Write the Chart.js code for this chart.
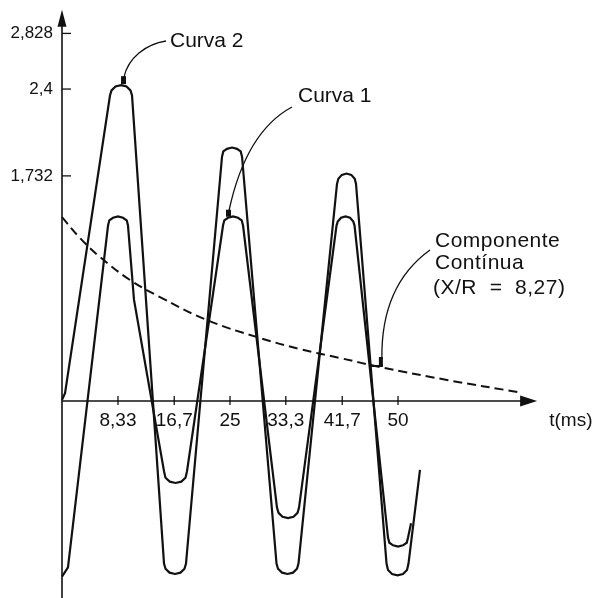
<!DOCTYPE html>
<html>
<head>
<meta charset="utf-8">
<script src="https://cdn.jsdelivr.net/npm/chart.js@4.4.1/dist/chart.umd.min.js"></script>
<style>
  html, body { margin: 0; padding: 0; background: #fff; }
  #wrap { width: 596px; height: 598px; position: relative; }
</style>
</head>
<body>
<div id="wrap"><canvas id="grafico"></canvas></div>
<script>
// tempo (ms) e corrente (pu) de cada curva; cada crista/vale tem 7 pontos
const curva2T = [0, 0.45,
  7.14, 7.37, 7.96, 8.78, 9.60, 10.19, 10.42,
  15.18, 15.40, 16.00, 16.82, 17.63, 18.23, 18.45,
  23.81, 24.00, 24.55, 25.30, 26.04, 26.59, 26.79,
  31.92, 32.14, 32.74, 33.56, 34.38, 34.97, 35.19,
  40.92, 41.12, 41.64, 42.34, 43.05, 43.56, 43.75,
  48.29, 48.51, 49.11, 49.93, 50.74, 51.34, 51.56,
  53.27];
const curva2I = [0.01, 0.06,
  2.35, 2.39, 2.42, 2.43, 2.42, 2.39, 2.35,
  -1.25, -1.29, -1.32, -1.33, -1.32, -1.29, -1.25,
  1.88, 1.92, 1.94, 1.95, 1.94, 1.92, 1.88,
  -1.25, -1.29, -1.32, -1.33, -1.32, -1.29, -1.25,
  1.67, 1.71, 1.74, 1.75, 1.74, 1.71, 1.67,
  -1.25, -1.30, -1.33, -1.34, -1.33, -1.30, -1.25,
  -0.53];

const curva1T = [0, 0.89,
  6.85, 7.04, 7.59, 8.33, 9.08, 9.63, 9.82, 10.71,
  15.18, 15.40, 16.04, 16.89, 17.75, 18.38, 18.60,
  23.96, 24.15, 24.70, 25.45, 26.19, 26.74, 26.94,
  31.99, 32.22, 32.81, 33.63, 34.45, 35.05, 35.27,
  40.85, 41.03, 41.52, 42.19, 42.86, 43.35, 43.53,
  48.51, 48.71, 49.26, 50.0, 50.74, 51.30, 51.49,
  51.94];
const curva1I = [-1.35, -1.28,
  1.35, 1.39, 1.41, 1.42, 1.41, 1.39, 1.35, 0.78,
  -0.54, -0.59, -0.62, -0.63, -0.62, -0.59, -0.54,
  1.35, 1.39, 1.41, 1.42, 1.41, 1.39, 1.35,
  -0.82, -0.86, -0.89, -0.90, -0.89, -0.86, -0.82,
  1.35, 1.38, 1.41, 1.42, 1.41, 1.38, 1.35,
  -1.05, -1.09, -1.11, -1.12, -1.11, -1.09, -1.05,
  -0.94];

// componente continua
const compT = [0, 2.68, 5.65, 10.12, 14.58, 21.58, 29.46, 35.42, 41.37, 47.32, 57.29, 67.86];
const compI = [1.415, 1.254, 1.108, 0.931, 0.80, 0.623, 0.485, 0.40, 0.331, 0.262, 0.162, 0.069];

const ticksX = [8.33, 16.7, 25, 33.3, 41.7, 50];
const ticksXLabels = ['8,33', '16,7', '25', '33,3', '41,7', '50'];
const ticksY = [2.828, 2.4, 1.732];
const ticksYLabels = ['2,828', '2,4', '1,732'];

const FONTE = '"Liberation Sans", Arial, sans-serif';
const COR = '#111';

function pares(ts, is) {
  return ts.map((t, k) => ({ x: t, y: is[k] }));
}

const eixos = {
  id: 'eixos',
  beforeDatasetsDraw(chart) {
    const ctx = chart.ctx;
    const sx = chart.scales.x, sy = chart.scales.y;
    const x0 = sx.getPixelForValue(0), y0 = sy.getPixelForValue(0);
    const xFim = sx.getPixelForValue(70.7), yFim = sy.getPixelForValue(3.01);
    ctx.save();
    ctx.strokeStyle = COR;
    ctx.fillStyle = COR;
    ctx.lineWidth = 1.6;

    // eixo vertical com seta
    ctx.beginPath();
    ctx.moveTo(x0, chart.chartArea.bottom);
    ctx.lineTo(x0, yFim + 12);
    ctx.stroke();
    ctx.beginPath();
    ctx.moveTo(x0, yFim);
    ctx.lineTo(x0 - 4.5, yFim + 17);
    ctx.lineTo(x0 + 4.5, yFim + 17);
    ctx.closePath();
    ctx.fill();

    // eixo horizontal com seta
    ctx.beginPath();
    ctx.moveTo(x0, y0);
    ctx.lineTo(xFim - 12, y0);
    ctx.stroke();
    ctx.beginPath();
    ctx.moveTo(xFim, y0);
    ctx.lineTo(xFim - 17, y0 - 5.5);
    ctx.lineTo(xFim - 17, y0 + 5.5);
    ctx.closePath();
    ctx.fill();

    // marcas
    ctx.lineWidth = 1.3;
    ticksX.forEach(t => {
      const px = sx.getPixelForValue(t);
      ctx.beginPath();
      ctx.moveTo(px, y0 - 5);
      ctx.lineTo(px, y0 + 4);
      ctx.stroke();
    });
    ticksY.forEach(v => {
      const py = sy.getPixelForValue(v);
      ctx.beginPath();
      ctx.moveTo(x0, py);
      ctx.lineTo(x0 + 9, py);
      ctx.stroke();
    });
    ctx.restore();
  },
  afterDraw(chart) {
    const ctx = chart.ctx;
    const sx = chart.scales.x, sy = chart.scales.y;
    const x0 = sx.getPixelForValue(0), y0 = sy.getPixelForValue(0);
    ctx.save();
    ctx.fillStyle = COR;
    ctx.strokeStyle = COR;
    ctx.textBaseline = 'middle';

    // rotulos do eixo vertical
    ctx.font = '17px ' + FONTE;
    ctx.textAlign = 'right';
    ticksY.forEach((v, k) => ctx.fillText(ticksYLabels[k], x0 - 9, sy.getPixelForValue(v)));

    // rotulos do eixo horizontal
    ctx.font = '19px ' + FONTE;
    ctx.textAlign = 'center';
    ticksX.forEach((t, k) => ctx.fillText(ticksXLabels[k], sx.getPixelForValue(t), y0 + 20));
    ctx.textAlign = 'left';
    ctx.fillText('t(ms)', sx.getPixelForValue(72.5), y0 + 20);

    // legendas com linha de chamada
    ctx.font = '21px ' + FONTE;
    ctx.fillText('Curva 2', 170, 41);
    ctx.fillText('Curva 1', 298, 96);
    ctx.letterSpacing = '0.5px';
    ctx.fillText('Componente', 435, 241);
    ctx.fillText('Contínua', 435, 263);
    ctx.fillText('(X/R  =  8,27)', 433, 288);
    ctx.letterSpacing = '0px';

    ctx.lineWidth = 1.3;
    const p2 = { x: sx.getPixelForValue(curva2T[5]) + 3, y: sy.getPixelForValue(curva2I[5]) };
    ctx.beginPath();
    ctx.moveTo(166, 41);
    ctx.bezierCurveTo(146, 44, 128, 58, p2.x, p2.y - 8);
    ctx.stroke();
    ctx.fillRect(p2.x - 3, p2.y - 9, 5, 8);

    const p1 = { x: sx.getPixelForValue(curva1T[19]) + 1, y: sy.getPixelForValue(curva1I[19]) };
    ctx.beginPath();
    ctx.moveTo(292, 107);
    ctx.bezierCurveTo(266, 121, 242, 150, p1.x, p1.y - 7);
    ctx.stroke();
    ctx.fillRect(p1.x - 3, p1.y - 8, 5, 7);

    const pc = { x: sx.getPixelForValue(47.6), y: sy.getPixelForValue(0.262) };
    ctx.beginPath();
    ctx.moveTo(430, 250);
    ctx.bezierCurveTo(405, 268, 381, 300, pc.x, pc.y - 8);
    ctx.stroke();
    ctx.fillRect(pc.x - 3, pc.y - 10, 4, 9);
    ctx.fillRect(pc.x - 12, pc.y - 2, 13, 2);
    ctx.restore();
  }
};

const linha = {
  borderColor: COR,
  borderWidth: 2.2,
  pointRadius: 0,
  tension: 0,
  fill: false
};

new Chart(document.getElementById('grafico'), {
  type: 'line',
  data: {
    datasets: [
      Object.assign({ label: 'Curva 2', data: pares(curva2T, curva2I) }, linha),
      Object.assign({ label: 'Curva 1', data: pares(curva1T, curva1I) }, linha),
      Object.assign({ label: 'Componente Contínua', data: pares(compT, compI) }, linha,
        { borderDash: [9, 5], tension: 0.4, borderWidth: 2 })
    ]
  },
  options: {
    responsive: true,
    maintainAspectRatio: false,
    animation: false,
    layout: { padding: 0 },
    plugins: { legend: { display: false }, tooltip: { enabled: false } },
    scales: {
      x: { type: 'linear', min: -9.226, max: 79.46, display: false },
      y: { type: 'linear', min: -1.515, max: 3.085, display: false }
    }
  },
  plugins: [eixos]
});
</script>
</body>
</html>
